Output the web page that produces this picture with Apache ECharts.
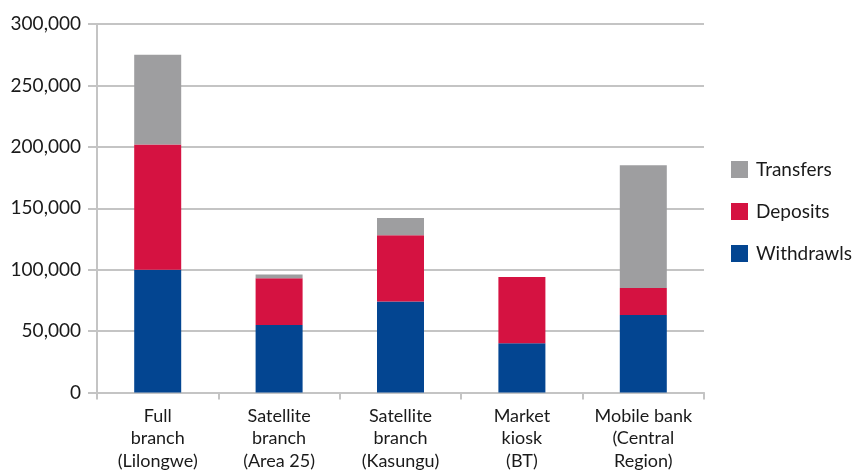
<!DOCTYPE html>
<html>
<head>
<meta charset="utf-8">
<script src="https://cdn.jsdelivr.net/npm/echarts@6/dist/echarts.min.js"></script>
<style>
  html, body { margin: 0; padding: 0; background: #fff; }
  #chart { width: 855px; height: 472px; }
</style>
</head>
<body>
<div id="chart"></div>
<script>
var categories = ['Full\nbranch\n(Lilongwe)', 'Satellite\nbranch\n(Area 25)', 'Satellite\nbranch\n(Kasungu)', 'Market\nkiosk\n(BT)', 'Mobile bank\n(Central\nRegion)'];
var withdrawls = [100000, 55000, 74000, 40000, 63000];
var deposits = [102000, 38000, 54000, 54000, 22000];
var transfers = [73000, 3000, 14000, 0, 100000];

document.addEventListener('DOMContentLoaded', function()
{
  var chart = echarts.init(document.getElementById('chart'));
  var font = 'Lato';
  var gridColor = '#c4c4c4';

  var option = {
    animation: false,
    textStyle: { fontFamily: font },
    grid: { left: 97, right: 151, top: 24, bottom: 79 },
    legend: {
      orient: 'vertical',
      left: 726,
      top: 155,
      itemWidth: 17,
      itemHeight: 17,
      itemGap: 23,
      icon: 'rect',
      data: ['Transfers', 'Deposits', 'Withdrawls'],
      textStyle: { fontSize: 19, color: '#1a1a1a', fontFamily: font, padding: [0, 0, 0, 3] }
    },
    xAxis: {
      type: 'category',
      data: categories,
      axisLine: { lineStyle: { color: gridColor, width: 2 } },
      axisTick: { show: true, alignWithLabel: false, length: 7, lineStyle: { color: gridColor, width: 2 } },
      axisLabel: { fontSize: 18, color: '#1a1a1a', lineHeight: 22.5, margin: 12, interval: 0 }
    },
    yAxis: {
      type: 'value',
      min: 0,
      max: 300000,
      interval: 50000,
      axisLine: { show: true, lineStyle: { color: gridColor, width: 2 } },
      axisTick: { show: true, length: 9, lineStyle: { color: gridColor, width: 2 } },
      splitLine: { lineStyle: { color: gridColor, width: 2 } },
      axisLabel: {
        fontSize: 19, color: '#1a1a1a', margin: 16,
        formatter: function (v) { return v.toLocaleString('en-US'); }
      }
    },
    series: [
      {
        name: 'Withdrawls', type: 'bar', stack: 'total', barWidth: 47,
        data: withdrawls, itemStyle: { color: '#034591' }
      },
      {
        name: 'Deposits', type: 'bar', stack: 'total', barWidth: 47,
        data: deposits, itemStyle: { color: '#d51241' }
      },
      {
        name: 'Transfers', type: 'bar', stack: 'total', barWidth: 47,
        data: transfers, itemStyle: { color: '#9e9ea0' }
      }
    ]
  };

  chart.setOption(option);
});
</script>
</body>
</html>
